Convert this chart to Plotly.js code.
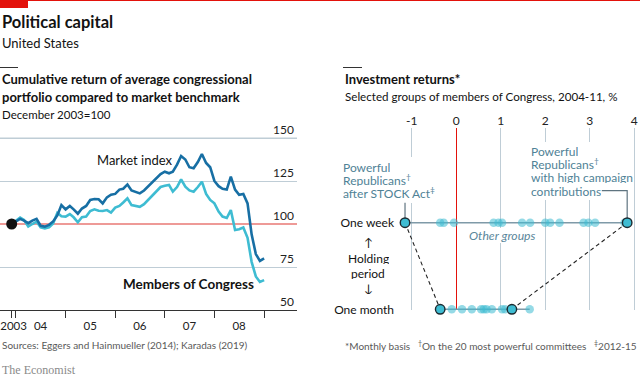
<!DOCTYPE html>
<html><head><meta charset="utf-8">
<script src="https://cdn.plot.ly/plotly-3.0.1.min.js"></script>
<style>html,body{margin:0;padding:0;background:#fff}#chart{width:640px;height:378px}</style>
</head><body><div id="chart"></div>
<script>
// ---------- Data: left chart (Dec 2003 = 100) ----------
const months = ["2003-12","2004-01","2004-02","2004-03","2004-04","2004-05","2004-06","2004-07","2004-08","2004-09","2004-10","2004-11",
"2004-12","2005-01","2005-02","2005-03","2005-04","2005-05","2005-06","2005-07","2005-08","2005-09","2005-10","2005-11",
"2005-12","2006-01","2006-02","2006-03","2006-04","2006-05","2006-06","2006-07","2006-08","2006-09","2006-10","2006-11",
"2006-12","2007-01","2007-02","2007-03","2007-04","2007-05","2007-06","2007-07","2007-08","2007-09","2007-10","2007-11",
"2007-12","2008-01","2008-02","2008-03","2008-04","2008-05","2008-06","2008-07","2008-08","2008-09","2008-10","2008-11",
"2008-12","2009-01"];
const marketIndex = [100,101.5,103,102,100.5,102,103,99,98.5,99.5,101.5,105,
111,108.5,110.5,108.5,106,109,110.5,114,114.5,114.4,112,115.5,
117,117.5,120,120.5,123,119.5,118.5,117.8,119.5,122,124.6,127,
129,130.4,129.5,130.4,134.5,139.5,137.5,133,132.4,136,140.7,135.5,
133,125,122,120.5,120,127.5,120,117,117.5,112,94,82.5,
78.5,80];
const membersOfCongress = [100,102,103.7,102.3,98.5,100,101.4,98.1,97.5,98.1,100.3,106.5,
104.5,104.3,105.8,103.9,101,103.9,104.3,107.5,108.5,107.7,107.6,108.1,
106.6,109.5,110.5,112.5,114.9,111,110.6,110,111.5,114,116.9,119,
121.5,122.2,122.7,118.8,121.5,126,121.7,119.5,118.8,121.5,124.6,117.5,
114,112,107.2,104.3,103.5,108.1,96.5,97,98,92,78,69.5,
66.3,67.4];
const baseDate = "2003-12";
const baseValue = 100;
const leftGridTicks = [50,75,125,150];
const yearTickDates = ["2003-12-01","2004-01-01","2005-01-01","2006-01-01","2007-01-01","2008-01-01","2009-01-01"];
const yearLabelDates = ["2003-12-15","2004-07-01","2005-07-01","2006-07-01","2007-07-01","2008-07-01"];
const yearLabels = ["2003","04","05","06","07","08"];

// ---------- Data: right chart (investment returns, %) ----------
const weekOthers = [-0.36,-0.28,-0.05,0.84,0.95,1.03,1.48,1.66,2.0,2.11,2.32,2.86,2.97,3.12,3.78];
const monthOthers = [-0.10,0.13,0.35,0.56,0.62,0.68,0.80,1.03,1.10,1.65];
const stockAct = {week:-1.15, month:-0.36};
const highCampaign = {week:3.84, month:1.25};
const rightXTicks = [-1,0,1,2,3,4];
const rightXLabels = ["-1","0","1","2","3","4"];
const rowLabels = ["One month","One week"];

// ---------- helpers ----------
const W=640,H=378;
const px = x => x/W, py = y => 1 - y/H;
const FONT = "Lato, 'Noto Sans', sans-serif";
const DARK="#176FA4", CYAN="#3EBCD2", GRID="#bfcdd6", TEAL="#4f8296";
const WEEK=1, MONTH=0;
const PX_PER_UNIT = 1.72, LEFT_BOTTOM = 310, LEFT_TOP = 112;
const leftYRange = [50, 50 + (LEFT_BOTTOM-LEFT_TOP)/PX_PER_UNIT];
const leftRange = ['2003-09-06','2009-08-31'];
const topGrid = leftGridTicks[leftGridTicks.length-1];
const topGridPx = LEFT_BOTTOM - (topGrid-50)*PX_PER_UNIT;

const allWeek = weekOthers.concat([stockAct.week, highCampaign.week]);
const allMonth = monthOthers.concat([stockAct.month, highCampaign.month]);

const traces = [
  // invisible helpers so overlay axes exist
  {x:[baseDate], y:[baseValue], type:'scatter', mode:'markers', marker:{opacity:0}, xaxis:'x3', yaxis:'y', hoverinfo:'skip'},
  {x:[baseDate], y:[baseValue], type:'scatter', mode:'markers', marker:{opacity:0}, xaxis:'x', yaxis:'y4', hoverinfo:'skip'},
  {x:months, y:membersOfCongress, type:'scatter', mode:'lines', line:{color:CYAN,width:2.6}, xaxis:'x', yaxis:'y', hoverinfo:'skip'},
  {x:months, y:marketIndex, type:'scatter', mode:'lines', line:{color:DARK,width:2.6}, xaxis:'x', yaxis:'y', hoverinfo:'skip'},
  {x:[baseDate], y:[baseValue], type:'scatter', mode:'markers', marker:{color:'#111',size:11}, xaxis:'x', yaxis:'y', cliponaxis:false},
  // right: row lines
  {x:[Math.min(...allWeek), Math.max(...allWeek)], y:[WEEK,WEEK], type:'scatter', mode:'lines', line:{color:'#7f9aa8',width:1.5}, xaxis:'x2', yaxis:'y2', cliponaxis:false},
  {x:[Math.min(...allMonth), Math.max(...allMonth)], y:[MONTH,MONTH], type:'scatter', mode:'lines', line:{color:'#7f9aa8',width:1.5}, xaxis:'x2', yaxis:'y2', cliponaxis:false},
  // leaders
  {x:[stockAct.week, stockAct.week], y:[WEEK, WEEK+0.23], type:'scatter', mode:'lines', line:{color:'#5f7480',width:1.2}, xaxis:'x2', yaxis:'y2', cliponaxis:false},
  {x:[highCampaign.week, highCampaign.week, 3.27], y:[WEEK, WEEK+0.37, WEEK+0.37], type:'scatter', mode:'lines', line:{color:'#5f7480',width:1.2}, xaxis:'x2', yaxis:'y2', cliponaxis:false},
  // dashed connectors
  {x:[stockAct.week, stockAct.month], y:[WEEK, MONTH], type:'scatter', mode:'lines', line:{color:'#222',width:1.1,dash:'4px,3px'}, xaxis:'x2', yaxis:'y2', cliponaxis:false},
  {x:[highCampaign.week, highCampaign.month], y:[WEEK, MONTH], type:'scatter', mode:'lines', line:{color:'#222',width:1.1,dash:'4px,3px'}, xaxis:'x2', yaxis:'y2', cliponaxis:false},
  // other dots
  {x:weekOthers, y:weekOthers.map(()=>WEEK), type:'scatter', mode:'markers', marker:{color:'rgba(62,188,210,0.55)',size:8.5}, xaxis:'x2', yaxis:'y2', cliponaxis:false},
  {x:monthOthers, y:monthOthers.map(()=>MONTH), type:'scatter', mode:'markers', marker:{color:'rgba(62,188,210,0.55)',size:8.5}, xaxis:'x2', yaxis:'y2', cliponaxis:false},
  // highlighted
  {x:[stockAct.week, highCampaign.week, stockAct.month, highCampaign.month], y:[WEEK,WEEK,MONTH,MONTH], type:'scatter', mode:'markers',
   marker:{color:CYAN,size:9.5,line:{color:'#1c2a30',width:1.4}}, xaxis:'x2', yaxis:'y2', cliponaxis:false}
];

function ann(text,x,y,o){ return Object.assign({text:text,x:px(x),y:py(y),xref:'paper',yref:'paper',showarrow:false,xanchor:'left',yanchor:'middle',
  font:{family:FONT,size:12,color:'#121212'}}, o||{}); }
const tf = (s,c,w) => ({family:FONT,size:s,color:c||'#121212',weight:w||400});
const stacked = c => ({font:tf(12,c||TEAL), height:12, valign:'middle'});

const annotations = [
  ann('Political capital',0,22,{font:tf(16.5,null,700)}),
  ann('United States',0,43,{font:tf(13)}),
  ann('Cumulative return of average congressional',0,79,{font:tf(13,null,700)}),
  ann('portfolio compared to market benchmark',0,97,{font:tf(13,null,700)}),
  ann('December 2003=100',0,114,{font:tf(11.5)}),
  ann('Investment returns*',343,79,{font:tf(13,null,700)}),
  ann('Selected groups of members of Congress, 2004-11, %',343,96,{font:tf(11.6)}),
  ann('Market index',135,160,{xanchor:'center',font:tf(13)}),
  ann('Members of Congress',188,284,{xanchor:'center',font:tf(13.5,null,700)}),
  ann('↑',368,242,Object.assign({xanchor:'center'},stacked('#121212'))),
  ann('Holding',368,258,Object.assign({xanchor:'center'},stacked('#121212'))),
  ann('period',368,273,Object.assign({xanchor:'center'},stacked('#121212'))),
  ann('↓',368,288,Object.assign({xanchor:'center'},stacked('#121212'))),
  ann('<i>Other groups</i>',502,235,{xanchor:'center',font:tf(12.2,'#5b879b')}),
  ann('Powerful',341,167,stacked()),
  ann('Republicans<sup>†</sup>',341,180,stacked()),
  ann('after STOCK Act<sup>‡</sup>',341,193,stacked()),
  ann('Powerful',529,151,stacked()),
  ann('Republicans<sup>†</sup>',529,164,stacked()),
  ann('with high campaign',529,177,stacked()),
  ann('contributions',529,190.5,stacked()),
  ann('Sources: Eggers and Hainmueller (2014); Karadas (2019)',0,345,{font:tf(10,'#595959')}),
  ann('*Monthly basis   <sup>†</sup>On the 20 most powerful committees   <sup>‡</sup>2012-15',639,345,{xanchor:'right',font:tf(10,'#595959')}),
  ann('The Economist',0,370,{font:{family:"'Liberation Serif','DejaVu Serif',serif",size:12,color:'#8a8a8a'}}),
  // top (150) gridline of the left chart, drawn on the top layer
  ann(' ',0,topGridPx,{width:297,height:1,borderpad:0,borderwidth:0,bgcolor:GRID,font:tf(1,GRID)})
];

const shapes = [
  {type:'rect',xref:'paper',yref:'paper',x0:0,x1:px(28),y0:py(0),y1:py(8),fillcolor:'#E3120B',line:{width:0}},
  {type:'line',xref:'paper',yref:'paper',x0:0,x1:1,y0:py(0.5),y1:py(0.5),line:{color:'#E3120B',width:1}},
  {type:'line',xref:'paper',yref:'paper',x0:0,x1:px(18),y0:py(67.5),y1:py(67.5),line:{color:'#333',width:1}},
  {type:'line',xref:'paper',yref:'paper',x0:px(343),x1:px(362),y0:py(67.5),y1:py(67.5),line:{color:'#333',width:1}},
  {type:'rect',xref:'paper',yref:'paper',x0:0,x1:px(297),y0:py(topGridPx-0.6),y1:py(topGridPx+0.6),fillcolor:GRID,line:{width:0},layer:'above'},
  // masks over gridlines behind text
  {type:'rect',xref:'paper',yref:'paper',x0:px(409),x1:px(415),y0:py(157),y1:py(203),fillcolor:'#fff',line:{width:0},layer:'above'},
  {type:'rect',xref:'paper',yref:'paper',x0:px(542),x1:px(548),y0:py(142),y1:py(200),fillcolor:'#fff',line:{width:0},layer:'above'},
  {type:'rect',xref:'paper',yref:'paper',x0:px(586),x1:px(592),y0:py(142),y1:py(200),fillcolor:'#fff',line:{width:0},layer:'above'},
  {type:'rect',xref:'paper',yref:'paper',x0:px(497),x1:px(504),y0:py(228),y1:py(243),fillcolor:'#fff',line:{width:0},layer:'above'}
];

const yTickFont = tf(12,'#222');
const layout = {
  width:W, height:H, margin:{l:0,r:0,t:0,b:0}, paper_bgcolor:'#fff', plot_bgcolor:'rgba(0,0,0,0)', showlegend:false,
  font:{family:FONT,size:12,color:'#222'},
  xaxis:{domain:[0,px(297)], anchor:'y', type:'date', range:leftRange, tickvals:yearTickDates, showticklabels:false,
    ticks:'outside', ticklen:7, tickcolor:'#333', tickwidth:1, showgrid:false, showline:true, linecolor:'#333', linewidth:1, zeroline:false},
  xaxis3:{overlaying:'x', anchor:'y', type:'date', range:leftRange, tickvals:yearLabelDates, ticktext:yearLabels, ticks:'', showgrid:false,
    showline:false, zeroline:false, ticklabelstandoff:7, ticklabeloverflow:'allow', tickfont:tf(11.5,'#222')},
  yaxis:{domain:[py(LEFT_BOTTOM),py(LEFT_TOP)], anchor:'x', side:'right', range:leftYRange, tickvals:leftGridTicks, ticklabelposition:'inside top',
    ticklabeloverflow:'allow', showgrid:true, gridcolor:GRID, gridwidth:1, zeroline:false, showline:false, ticks:'', tickfont:yTickFont},
  yaxis4:{overlaying:'y', anchor:'x', side:'right', range:leftYRange, tickvals:[baseValue], ticklabelposition:'inside top',
    ticklabeloverflow:'allow', showgrid:true, gridcolor:'#ee9a97', gridwidth:2, zeroline:false, showline:false, ticks:'', tickfont:yTickFont},
  xaxis2:{domain:[px(395),1], anchor:'y2', side:'top', range:[-1.375,4.128], tickvals:rightXTicks, ticktext:rightXLabels, ticks:'',
    ticklabeloverflow:'allow', showgrid:true, gridcolor:GRID, gridwidth:1, zeroline:true, zerolinecolor:'#E3120B', zerolinewidth:1, showline:false, tickfont:tf(12,'#222')},
  yaxis2:{domain:[py(310),py(128)], anchor:'x2', range:[-0.008,2.094], tickvals:[MONTH,WEEK], ticktext:rowLabels, ticks:'',
    showgrid:false, zeroline:false, showline:false, tickfont:tf(12,'#121212')},
  annotations:annotations, shapes:shapes
};
Plotly.newPlot('chart', traces, layout, {staticPlot:true, displayModeBar:false});
</script></body></html>
